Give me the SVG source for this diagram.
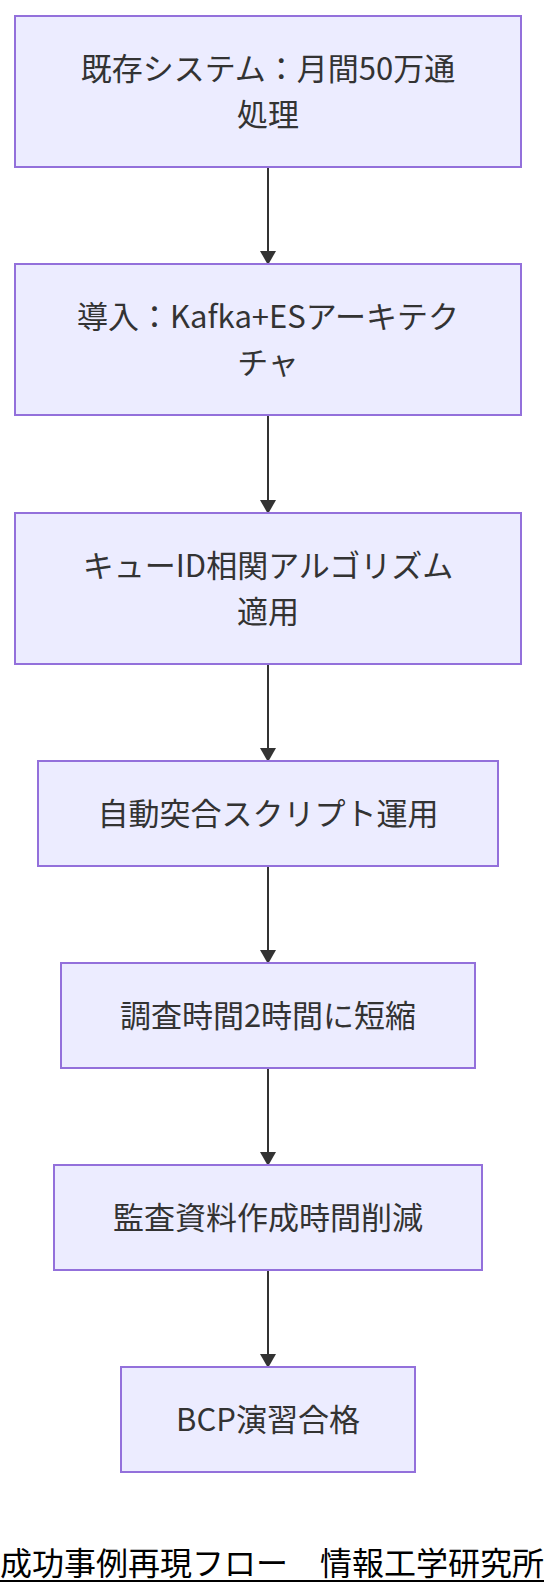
<svg xmlns="http://www.w3.org/2000/svg" width="552" height="1596" viewBox="0 0 552 1596">
<style>
.node rect{fill:#ECECFF;stroke:#9370DB;stroke-width:2}
.node text{font-family:"Noto Sans CJK JP","Noto Sans",sans-serif;font-size:31px;fill:#333333;text-anchor:middle;dominant-baseline:central}
.edge{stroke:#333333;stroke-width:2;fill:none}
.title{font-family:"Noto Sans CJK JP","Noto Sans",sans-serif;font-size:32px;fill:#000000}
</style>
<defs>
<marker id="arrow" markerUnits="userSpaceOnUse" viewBox="0 0 14 16" refX="13" refY="8" markerWidth="14" markerHeight="16" orient="auto">
<path d="M0,0 L14,8 L0,16 z" fill="#333333"/>
</marker>
</defs>
<rect width="552" height="1596" fill="#FFFFFF"/>
<g id="connectors">
<line class="edge" x1="268" y1="167" x2="268" y2="264" marker-end="url(#arrow)"/>
<line class="edge" x1="268" y1="415" x2="268" y2="513" marker-end="url(#arrow)"/>
<line class="edge" x1="268" y1="664" x2="268" y2="761" marker-end="url(#arrow)"/>
<line class="edge" x1="268" y1="866" x2="268" y2="963" marker-end="url(#arrow)"/>
<line class="edge" x1="268" y1="1068" x2="268" y2="1165" marker-end="url(#arrow)"/>
<line class="edge" x1="268" y1="1270" x2="268" y2="1367" marker-end="url(#arrow)"/>
</g>
<g id="n1" class="node">
<rect x="15" y="16" width="506" height="151"/>
<text x="268" y="66">既存システム：月間50万通</text>
<text x="268" y="112">処理</text>
</g>
<g id="n2" class="node">
<rect x="15" y="264" width="506" height="151"/>
<text x="268" y="314">導入：Kafka+ESアーキテク</text>
<text x="268" y="360">チャ</text>
</g>
<g id="n3" class="node">
<rect x="15" y="513" width="506" height="151"/>
<text x="268" y="563">キューID相関アルゴリズム</text>
<text x="268" y="609">適用</text>
</g>
<g id="n4" class="node">
<rect x="38" y="761" width="460" height="105"/>
<text x="268" y="811.5">自動突合スクリプト運用</text>
</g>
<g id="n5" class="node">
<rect x="61" y="963" width="414" height="105"/>
<text x="268" y="1013.5">調査時間2時間に短縮</text>
</g>
<g id="n6" class="node">
<rect x="54" y="1165" width="428" height="105"/>
<text x="268" y="1215.5">監査資料作成時間削減</text>
</g>
<g id="n7" class="node">
<rect x="121" y="1367" width="294" height="105"/>
<text x="268" y="1417.5">BCP演習合格</text>
</g>
<g id="title">
<text class="title" x="0" y="1575">成功事例再現フロー　情報工学研究所</text>
<line x1="0" y1="1581" x2="544" y2="1581" stroke="#000000" stroke-width="2"/>
</g>
</svg>
